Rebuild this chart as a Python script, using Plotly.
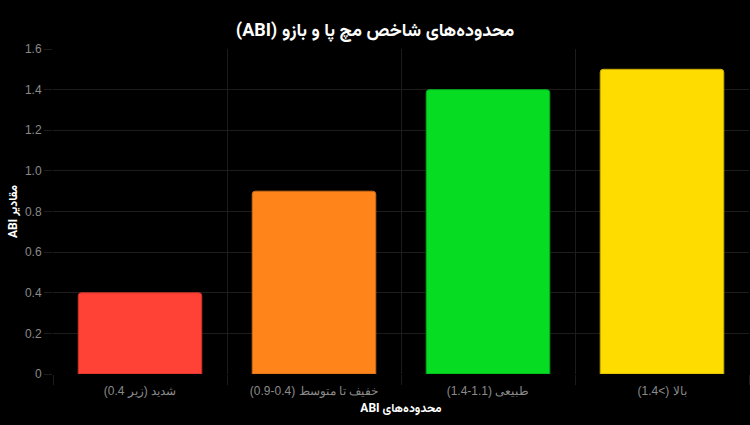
import plotly.graph_objects as go

RLE, PDF = "\u202b", "\u202c"

# ABI categories and values
categories = ["شدید (زیر 0.4)", "خفیف تا متوسط (0.4-0.9)", "طبیعی (1.1-1.4)", "بالا (>1.4)"]
values = [0.4, 0.9, 1.4, 1.5]
bar_colors = ["#FF4136", "#FF851B", "#06DD22", "#FFDC00"]
edge_colors = ["#C8322A", "#C86A16", "#05A81A", "#C8AC00"]

y_ticks = [0, 0.2, 0.4, 0.6, 0.8, 1.0, 1.2, 1.4, 1.6]
y_tick_text = ["0", "0.2", "0.4", "0.6", "0.8", "1.0", "1.2", "1.4", "1.6"]

font_fa = "Vazirmatn, 'Noto Sans', 'DejaVu Sans', sans-serif"


def rtl(s):
    # force right-to-left paragraph like the original
    return RLE + s + PDF


fig = go.Figure(go.Bar(
    x=[rtl(c) for c in categories],
    y=values,
    marker=dict(color=bar_colors, line=dict(color=edge_colors, width=1)),
    width=0.71,
))

fig.update_layout(
    width=750, height=425,
    paper_bgcolor="#000000", plot_bgcolor="#000000",
    margin=dict(l=53, r=1, t=49, b=51),
    barcornerradius=3,
    showlegend=False,
    title=dict(text="<b>" + rtl("محدوده‌های شاخص مچ پا و بازو (ABI)") + "</b>", x=0.5, xanchor="center",
               y=0.93, yanchor="middle",
               font=dict(family=font_fa, size=18, color="#ffffff")),
    font=dict(family=font_fa),
)

fig.update_xaxes(
    tickson="boundaries", showgrid=True, gridcolor="#1c1c1c", gridwidth=1,
    ticks="outside", ticklen=10, tickcolor="#1c1c1c", ticklabelstandoff=8,
    tickfont=dict(family="'Liberation Sans', Arial, sans-serif", size=12, color="#8a8a8a"),
    title=dict(text="<b>" + rtl("محدوده‌های ABI") + "</b>", standoff=6,
               font=dict(family=font_fa, size=12, color="#ffffff")),
    showline=False, zeroline=False,
)

fig.update_yaxes(
    range=[0, 1.6], tickvals=y_ticks, ticktext=y_tick_text,
    showgrid=True, gridcolor="#1c1c1c", gridwidth=1,
    ticks="outside", ticklen=8, tickcolor="#1c1c1c",
    tickfont=dict(family="'Liberation Sans', Arial, sans-serif", size=12, color="#8a8a8a"),
    title=dict(text="<b>" + rtl("مقادیر ABI") + "</b>", standoff=4,
               font=dict(family=font_fa, size=12, color="#ffffff")),
    zeroline=False, showline=False,
)

fig.write_html("out.html", config={"displayModeBar": False},
               post_script="document.body.style.margin='0';document.body.style.background='#000';")
